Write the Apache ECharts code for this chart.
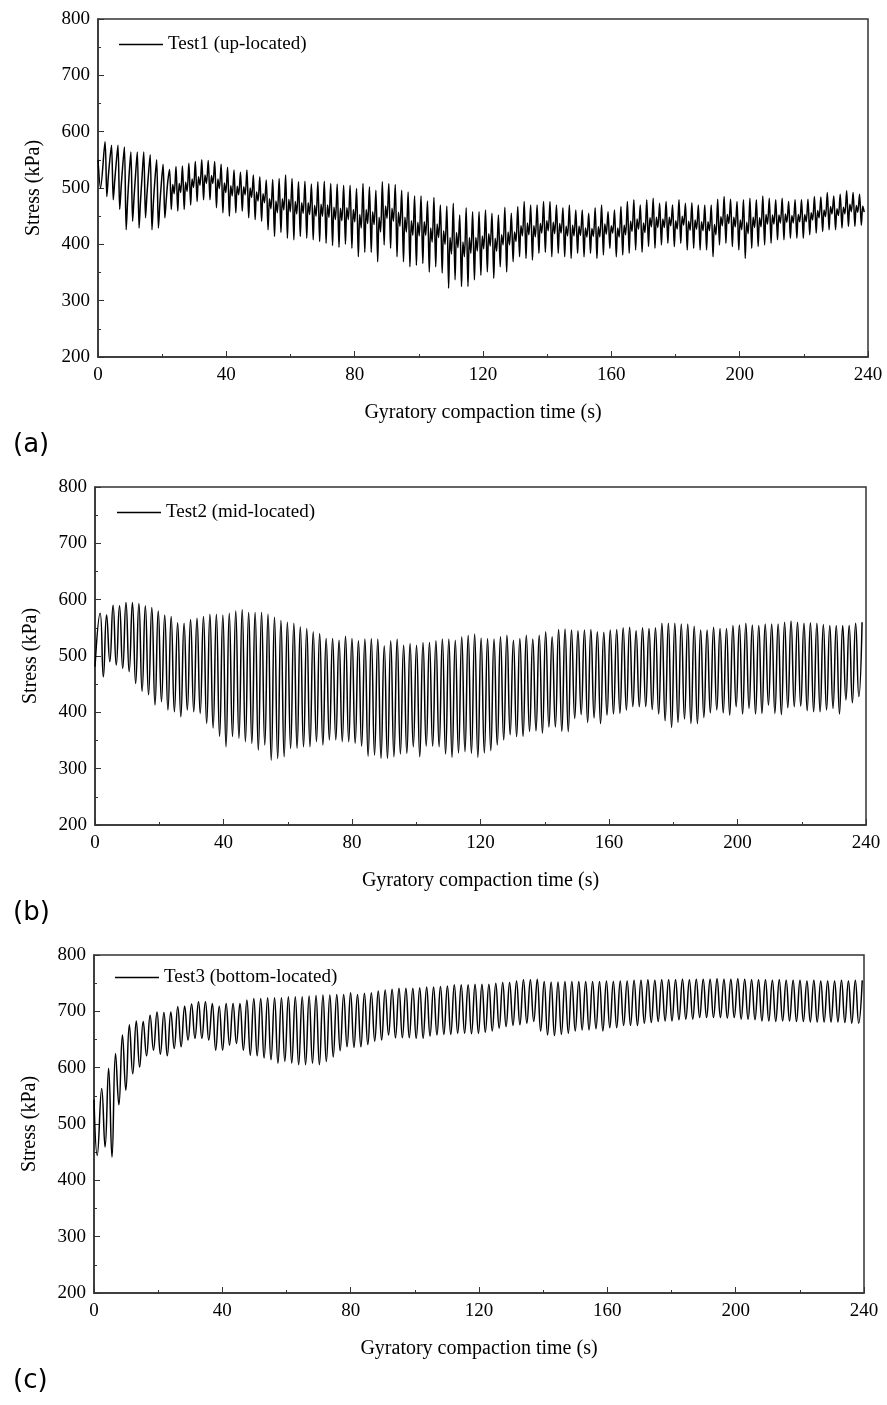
<!DOCTYPE html>
<html>
<head>
<meta charset="utf-8">
<title>Gyratory compaction stress</title>
<script src="https://cdn.jsdelivr.net/npm/echarts@6/dist/echarts.min.js"></script>
<style>
    html, body { margin: 0; padding: 0; background: #fff; }
    #chart { width: 887px; height: 1405px; }
</style>
</head>
<body>
<div id="chart"></div>
<script>
// ---- values (kPa), one entry per gyration cycle ----

// (a) Test1, up-located: noisy signal -> peak, trough, two mid-band points per cycle
const headA = [[0, 550], [0.8, 500]];
const firstPeakA = 2.2;
const periodA = 2.01;
const peaksA = [
    582, 576, 576, 573, 564, 564, 564, 559, 550, 542,
    533, 538, 539, 544, 547, 550, 549, 547, 542, 537,
    532, 528, 532, 523, 520, 514, 515, 517, 523, 517,
    511, 512, 507, 511, 512, 508, 507, 505,
    505, 499, 508, 502, 496, 511, 508, 506, 496, 493,
    486, 486, 477, 483, 470, 468, 473, 452, 465, 458,
    458, 461, 455, 452, 466, 455, 467, 476, 470, 470,
    476, 476, 470, 465, 470, 461, 461, 455, 465, 470,
    458, 461, 467, 476, 479, 470, 479, 482, 473, 476,
    470, 479, 473, 474, 470, 470, 470, 480, 485, 480,
    476, 479, 482, 479, 486, 482, 479, 482, 476, 479,
    479, 480, 485, 484, 492, 486, 489, 495, 492, 489
];
const troughsA = [
    485, 479, 462, 426, 441, 429, 447, 426, 429, 447,
    462, 459, 462, 470, 476, 479, 479, 465, 456, 450,
    456, 459, 447, 444, 441, 426, 414, 421, 411, 408,
    414, 411, 408, 405, 402, 398, 395, 400,
    393, 378, 386, 386, 369, 399, 393, 378, 369, 360,
    363, 366, 351, 360, 349, 322, 337, 325, 325, 337,
    345, 351, 340, 360, 351, 369, 378, 375, 372, 384,
    386, 378, 384, 378, 375, 384, 378, 384, 375, 381,
    393, 378, 381, 384, 390, 386, 396, 393, 399, 402,
    396, 402, 390, 393, 390, 390, 378, 399, 402, 396,
    390, 375, 393, 396, 399, 402, 408, 408, 411, 411,
    411, 417, 420, 423, 426, 426, 429, 432, 432, 434
];
const upperBandA = [
    519, 513, 502, 478, 484, 477, 489, 475, 472, 480,
    506, 508, 510, 516, 520, 523, 522, 516, 509, 504,
    503, 502, 500, 493, 490, 481, 477, 481, 480, 476,
    474, 474, 469, 471, 470, 466, 464, 465,
    462, 453, 462, 458, 448, 468, 464, 457, 448, 442,
    439, 440, 429, 436, 424, 412, 421, 404, 412, 412,
    415, 419, 411, 417, 422, 422, 433, 438, 433, 437,
    442, 439, 437, 432, 434, 432, 429, 428, 431, 436,
    433, 429, 434, 441, 445, 438, 447, 448, 445, 448,
    442, 450, 441, 443, 440, 440, 435, 449, 453, 448,
    443, 439, 448, 447, 453, 452, 452, 454, 451, 453,
    453, 456, 460, 461, 467, 463, 466, 471, 469, 468
];
const lowerBandA = [
    548, 543, 537, 522, 522, 517, 523, 513, 507, 511,
    490, 492, 494, 501, 505, 508, 508, 499, 492, 486,
    488, 488, 483, 477, 474, 463, 456, 461, 458, 454,
    455, 453, 450, 450, 448, 444, 442, 444,
    440, 429, 437, 435, 422, 446, 441, 432, 422, 416,
    415, 416, 404, 412, 400, 383, 394, 378, 384, 388,
    392, 397, 388, 399, 399, 405, 415, 417, 413, 420,
    424, 419, 420, 415, 415, 416, 413, 414, 413, 418,
    420, 413, 417, 423, 427, 421, 431, 430, 430, 433,
    427, 434, 425, 427, 424, 424, 417, 433, 437, 431,
    426, 419, 430, 431, 436, 436, 438, 439, 438, 440,
    440, 443, 447, 449, 454, 451, 454, 458, 457, 457
];

// (b) Test2, mid-located
const headB = [[0, 481]];
const firstPeakB = 1.6;
const periodB = 2.01;
const peaksB = [
    576, 573, 590, 589, 595, 595, 593, 589, 586, 580,
    573, 570, 559, 558, 565, 567, 570, 574, 574, 573,
    576, 580, 582, 577, 577, 577, 574, 569, 563, 560,
    558, 552, 549, 543, 540, 531, 531,
    528, 535, 531, 527, 530, 531, 530, 518, 527, 530, 519,
    522, 519, 524, 524, 527, 530, 530, 528, 534, 537,
    539, 532, 531, 530, 534, 537, 528, 531, 537, 530,
    537, 543, 534, 547, 548, 546, 545, 546, 547, 543,
    542, 546, 547, 550, 551, 545, 550, 549, 550, 558,
    558, 558, 557, 557, 553, 546, 546, 551, 549, 549,
    554, 555, 558, 555, 554, 557, 557, 557, 560, 562,
    560, 558, 559, 558, 556, 554, 554, 554, 554, 558,
    560
];
const troughsB = [
    463, 490, 484, 478, 472, 451, 437, 431, 413, 419,
    404, 401, 392, 404, 401, 398, 380, 372, 357, 339,
    357, 354, 348, 345, 333, 342, 315, 318, 321, 336,
    336, 339, 339, 348, 342, 351, 351,
    348, 348, 345, 340, 322, 324, 318, 318, 321, 326,
    327, 339, 321, 340, 340, 339, 326, 320, 328, 330,
    327, 320, 328, 332, 342, 351, 360, 357, 357, 366,
    367, 363, 374, 374, 366, 366, 389, 396, 382, 390,
    380, 395, 397, 398, 404, 410, 410, 410, 405, 397,
    385, 373, 382, 388, 380, 380, 391, 399, 404, 399,
    395, 410, 397, 407, 397, 398, 413, 398, 396, 408,
    410, 411, 403, 401, 401, 404, 407, 397, 422, 417, 428
];

// (c) Test3, bottom-located
const headC = [[0, 543], [1.0, 444]];
const firstPeakC = 2.4;
const periodC = 2.155;
const peaksC = [
    563, 599, 625, 658, 676, 683, 682, 693, 699, 698,
    699, 708, 709, 713, 717, 717, 714, 709, 714, 714,
    714, 720, 723, 723, 724, 724, 724, 726, 726, 726,
    727, 728, 729, 729, 730, 730,
    733, 730, 732, 733, 736, 738, 739, 741, 741, 741,
    742, 743, 743, 744, 745, 747, 747, 747, 748, 748,
    748, 750, 751, 751, 754, 756, 756, 757, 753, 752,
    752, 753, 753, 753, 753, 753, 753, 754,
    753, 754, 754, 755, 755, 756, 755, 756, 756, 756,
    757, 756, 757, 757, 757, 758, 757, 757, 758, 757,
    756, 756, 756, 755, 756, 755, 755, 755, 754, 755,
    754, 754, 754, 755, 754, 755, 755
];
const troughsC = [
    459, 441, 534, 560, 589, 601, 621, 631, 624, 621,
    634, 637, 649, 652, 652, 649, 631, 631, 640, 643,
    631, 622, 621, 617, 614, 608, 611, 608, 605, 605,
    608, 605, 611, 619,
    630, 637, 636, 637, 641, 647, 649, 658, 653, 653,
    653, 652, 652, 656, 658, 659, 659, 661, 661, 660,
    661, 663, 665, 670, 673, 675, 676, 679, 682, 665,
    658, 657, 659, 661, 665, 667, 667, 669,
    665, 671, 671, 675, 675, 675, 679, 680, 682, 683,
    683, 685, 686, 686, 689, 689, 689, 689, 688, 689,
    686, 686, 685, 683, 683, 682, 683, 683, 682, 682,
    681, 681, 681, 681, 681, 680, 679, 679
];

const xRange = [0, 240];
const yRange = [200, 800];

// join the per-cycle columns into [time, stress] points
function cycleData(head, firstPeak, period, offsets, columns) {
    const data = head.slice();
    for (let i = 0; i < columns[0].length; i++) {
        const t0 = firstPeak + period * i;
        columns.forEach((col, k) => {
            if (col[i] !== undefined) data.push([+(t0 + offsets[k]).toFixed(3), col[i]]);
        });
    }
    return data;
}

const panels = [
    {
        name: 'Test1 (up-located)', tag: '(a)',
        grid: { left: 98, top: 19, width: 770, height: 338 },
        legendLeft: 114, legendTop: 30, smooth: 0.3, width: 1.5,
        data: cycleData(headA, firstPeakA, periodA, [0, 0.55, 1.0, 1.45],
            [peaksA, troughsA, upperBandA, lowerBandA])
    },
    {
        name: 'Test2 (mid-located)', tag: '(b)',
        grid: { left: 95, top: 487, width: 771, height: 338 },
        legendLeft: 112, legendTop: 498, smooth: 0.5, width: 1.5,
        data: cycleData(headB, firstPeakB, periodB, [0, 1.0], [peaksB, troughsB])
    },
    {
        name: 'Test3 (bottom-located)', tag: '(c)',
        grid: { left: 94, top: 955, width: 770, height: 338 },
        legendLeft: 110, legendTop: 963, smooth: 0.45, width: 1.5,
        data: cycleData(headC, firstPeakC, periodC, [0, 1.05], [peaksC, troughsC])
    }
];

const serif = 'Liberation Serif';
const frame = '#333';

const chart = echarts.init(document.getElementById('chart'));
chart.setOption({
    animation: false,
    backgroundColor: '#fff',
    grid: panels.map(p => ({
        ...p.grid, show: true, borderColor: frame, borderWidth: 1.5, containLabel: false
    })),
    legend: panels.map(p => ({
        data: [p.name],
        left: p.legendLeft,
        top: p.legendTop,
        icon: 'rect',
        itemWidth: 44,
        itemHeight: 1.3,
        itemStyle: { color: '#000' },
        textStyle: { fontFamily: serif, fontSize: 19, color: '#000' }
    })),
    xAxis: panels.map((p, i) => ({
        gridIndex: i,
        type: 'value',
        min: xRange[0], max: xRange[1], interval: 40,
        name: 'Gyratory compaction time (s)',
        nameLocation: 'middle',
        nameGap: 46,
        nameTextStyle: { fontFamily: serif, fontSize: 20, color: '#000' },
        axisLine: { lineStyle: { color: frame, width: 1.5 } },
        axisTick: { inside: true, length: 6, lineStyle: { color: frame } },
        minorTick: { show: true, splitNumber: 2, length: 3, lineStyle: { color: frame } },
        splitLine: { show: false },
        axisLabel: { margin: 9, fontFamily: serif, fontSize: 19, color: '#000' }
    })),
    yAxis: panels.map((p, i) => ({
        gridIndex: i,
        type: 'value',
        min: yRange[0], max: yRange[1], interval: 100,
        name: 'Stress (kPa)',
        nameLocation: 'middle',
        nameRotate: 90,
        nameGap: 54,
        nameTextStyle: { fontFamily: serif, fontSize: 20, color: '#000' },
        axisLine: { show: true, lineStyle: { color: frame, width: 1.5 } },
        axisTick: { show: true, inside: true, length: 6, lineStyle: { color: frame } },
        minorTick: { show: true, splitNumber: 2, length: 3, lineStyle: { color: frame } },
        splitLine: { show: false },
        axisLabel: { margin: 8, fontFamily: serif, fontSize: 19, color: '#000' }
    })),
    series: panels.map((p, i) => ({
        name: p.name,
        type: 'line',
        xAxisIndex: i,
        yAxisIndex: i,
        data: p.data,
        symbol: 'none',
        smooth: p.smooth,
        lineStyle: { color: '#000', width: p.width },
        itemStyle: { color: '#000' }
    })),
    graphic: panels.map(p => ({
        type: 'text',
        left: 13,
        top: p.grid.top + p.grid.height + 75,
        style: { text: p.tag, font: '26px "DejaVu Sans"', fill: '#000' }
    }))
});
</script>
</body>
</html>
